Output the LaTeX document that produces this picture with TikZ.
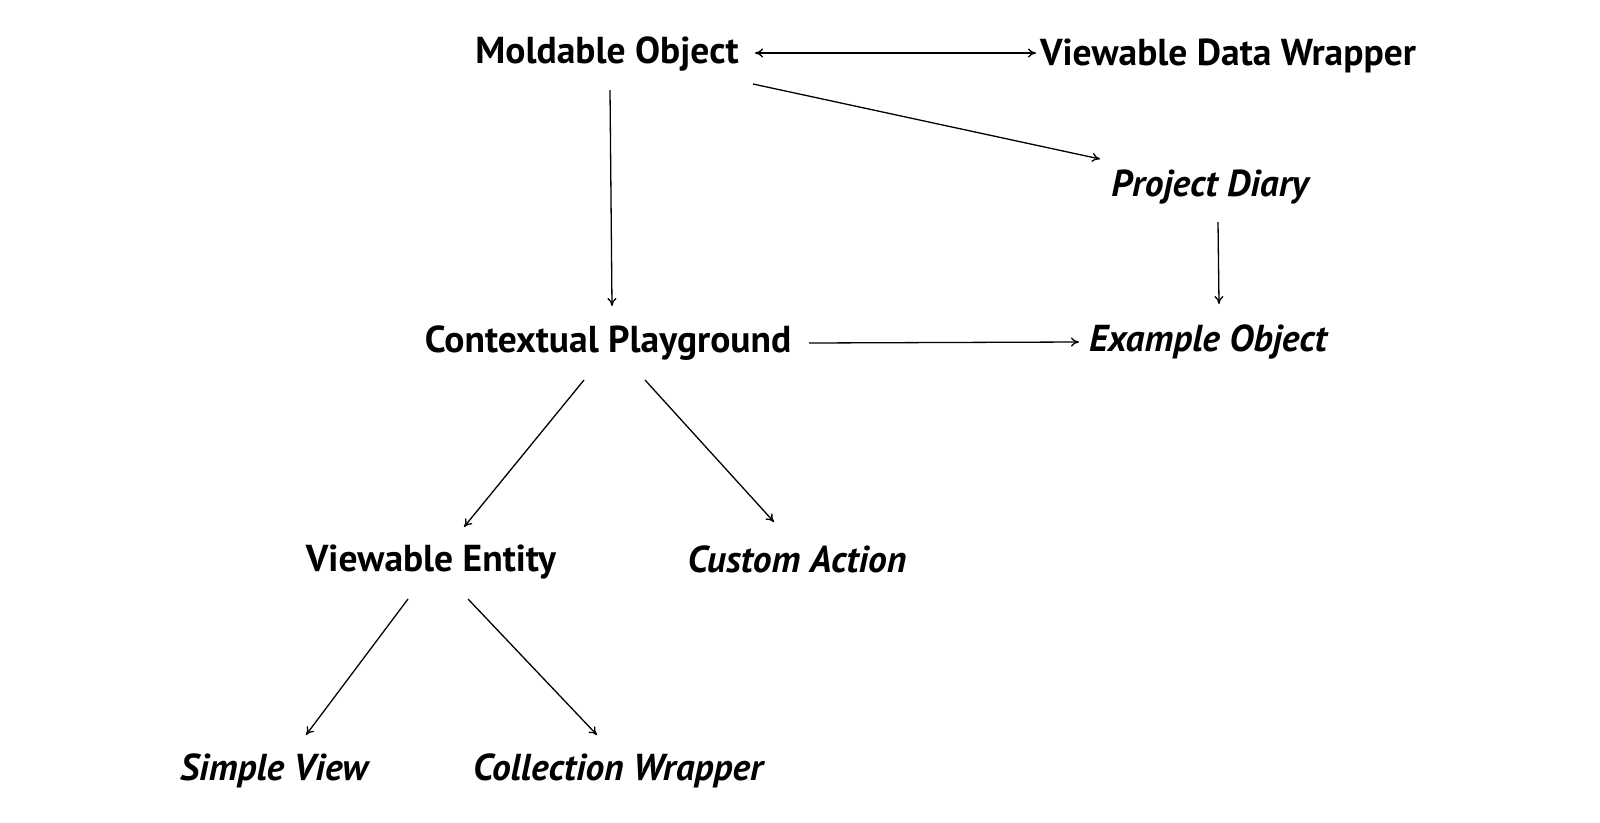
\documentclass[tikz,border=0pt]{standalone}
\usepackage{fontspec}
\setmainfont{PT Sans}
\usetikzlibrary{arrows.meta}
\begin{document}
\begin{tikzpicture}[x=1pt,y=-1pt,
  lbl/.style={font=\fontsize{37.5}{40}\selectfont\bfseries, inner sep=0pt, anchor=center},
  ilbl/.style={lbl, font=\fontsize{37.5}{40}\selectfont\bfseries\itshape},
  conn/.style={draw=black, line width=1.3pt, -{To[length=8pt,width=9pt]}},
  bconn/.style={conn, {To[length=8pt,width=9pt]}-{To[length=8pt,width=9pt]}}]
\useasboundingbox (0,0) rectangle (1600,822);
\node[lbl] (mold) at (607,54) {Moldable Object};
\node[lbl] (vdw) at (1228,56) {Viewable Data Wrapper};
\node[ilbl] (diary) at (1210,187) {Project Diary};
\node[ilbl] (example) at (1208,342) {Example Object};
\node[lbl] (ctx) at (608,343) {Contextual Playground};
\node[lbl] (ve) at (431,562) {Viewable Entity};
\node[ilbl] (ca) at (797,559) {Custom Action};
\node[ilbl] (sv) at (274,771) {Simple View};
\node[ilbl] (cw) at (618,771) {Collection Wrapper};
\coordinate (a1) at (755,53); \coordinate (a2) at (1036,53);
\coordinate (b1) at (753,84); \coordinate (b2) at (1100,159);
\coordinate (c1) at (610,90); \coordinate (c2) at (612,306);
\coordinate (d1) at (1218,222); \coordinate (d2) at (1219,304);
\coordinate (e1) at (809,343); \coordinate (e2) at (1079,342);
\coordinate (f1) at (584,380); \coordinate (f2) at (464,527);
\coordinate (g1) at (645,380); \coordinate (g2) at (774,522);
\coordinate (h1) at (408,599); \coordinate (h2) at (306,735);
\coordinate (i1) at (468,599); \coordinate (i2) at (597,735);
\draw[bconn] (a1) -- (a2);
\draw[conn] (b1) -- (b2);
\draw[conn] (c1) -- (c2);
\draw[conn] (d1) -- (d2);
\draw[conn] (e1) -- (e2);
\draw[conn] (f1) -- (f2);
\draw[conn] (g1) -- (g2);
\draw[conn] (h1) -- (h2);
\draw[conn] (i1) -- (i2);
\end{tikzpicture}
\end{document}
